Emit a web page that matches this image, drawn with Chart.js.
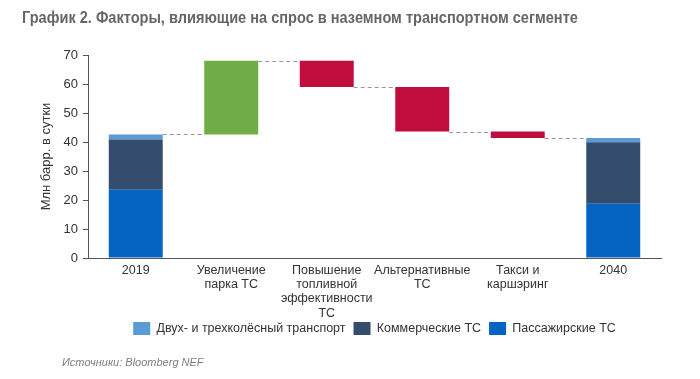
<!DOCTYPE html>
<html><head><meta charset="utf-8">
<script src="https://cdn.jsdelivr.net/npm/chart.js@4.4.0/dist/chart.umd.min.js"></script>
<style>
html,body{margin:0;padding:0;background:#fff;}
#wrap{position:relative;width:700px;height:379px;overflow:hidden;}
#title{position:absolute;left:22px;top:9px;font:bold 16px "Liberation Sans",Arial,sans-serif;color:#666;white-space:nowrap;transform:scaleX(0.91);transform-origin:0 0;}
#source{position:absolute;left:62px;top:356px;font:italic 11px "Liberation Sans",Arial,sans-serif;color:#7f7f7f;white-space:nowrap;}
canvas{position:absolute;left:0;top:0;}
</style></head>
<body><div id="wrap"><canvas id="c" width="700" height="379"></canvas>
<div id="title">График 2. Факторы, влияющие на спрос в наземном транспортном сегменте</div>
<div id="source">Источники: Bloomberg NEF</div></div>
<script>
const categories = [['2019'], ['Увеличение','парка ТС'], ['Повышение','топливной','эффективности','ТС'], ['Альтернативные','ТС'], ['Такси и','каршэринг'], ['2040']];
const passenger = [23.5, null, null, null, null, 18.7];
const commercial = [17.4, null, null, null, null, 21.2];
const twoWheel = [1.7, null, null, null, null, 1.5];
const changes = [null, 25.4, -9.0, -15.4, -2.2, null];
const seriesNames = ['Пассажирские ТС', 'Коммерческие ТС', 'Двух- и трехколёсный транспорт'];
const yTicks = [0, 10, 20, 30, 40, 50, 60, 70];

// build floating waterfall bars and connector levels
const floating = [null, null, null, null, null, null];
const wfColors = [];
const levels = [];
let level = passenger[0] + commercial[0] + twoWheel[0];
levels.push(level);
for (let i = 1; i < categories.length - 1; i++) {
  const end = level + changes[i];
  floating[i] = [level, end];
  wfColors[i] = changes[i] >= 0 ? '#70AD47' : '#C00D3E';
  level = end;
  levels.push(level);
}

const connectorPlugin = {
  id: 'connectors',
  afterDatasetsDraw(chart) {
    const ctx = chart.ctx;
    const meta = chart.getDatasetMeta(0);
    const y = chart.scales.y;
    ctx.save();
    ctx.strokeStyle = '#999';
    ctx.lineWidth = 1;
    ctx.setLineDash([4, 3]);
    for (let i = 0; i < levels.length; i++) {
      const a = meta.data[i], b = meta.data[i + 1];
      const x1 = a.x + a.width / 2, x2 = b.x - b.width / 2;
      const py = Math.round(y.getPixelForValue(levels[i])) + 0.5;
      ctx.beginPath(); ctx.moveTo(x1, py); ctx.lineTo(x2, py); ctx.stroke();
    }
    ctx.restore();
  }
};

const FONT = '"Liberation Sans", Arial, sans-serif';
new Chart(document.getElementById('c'), {
  type: 'bar',
  data: {
    labels: categories,
    datasets: [
      { label: seriesNames[0], data: passenger, backgroundColor: '#0563C1' },
      { label: seriesNames[1], data: commercial, backgroundColor: '#344C6E' },
      { label: seriesNames[2], data: twoWheel, backgroundColor: '#5B9BD5' },
      { label: 'wf', data: floating, backgroundColor: wfColors }
    ]
  },
  options: {
    responsive: false,
    animation: false,
    datasets: { bar: { categoryPercentage: 1, barPercentage: 0.565 } },
    layout: { padding: { left: 0, right: 39, top: 55, bottom: 34 } },
    plugins: {
      legend: {
        position: 'bottom', fullSize: false, reverse: true,
        labels: {
          filter: (item) => item.datasetIndex < 3,
          boxWidth: 17, boxHeight: 13, padding: 8,
          font: { size: 12.5, family: FONT }, color: '#333'
        }
      },
      tooltip: { enabled: false }
    },
    scales: {
      x: {
        stacked: true,
        grid: { display: false, drawTicks: false },
        border: { display: true, color: '#555' },
        ticks: { font: { size: 12.5, family: FONT, lineHeight: 1.15 }, color: '#333', maxRotation: 0, autoSkip: false, padding: 5 },
        afterFit(s) { s.height = 56; s._computeLabelArea = () => undefined; }
      },
      y: {
        stacked: true, min: 0, max: 70,
        afterBuildTicks(s) { s.ticks = yTicks.map(v => ({ value: v })); },
        ticks: { font: { size: 13, family: FONT }, color: '#333', padding: 5 },
        grid: { drawOnChartArea: false, tickLength: 5, color: '#555' },
        border: { color: '#555' },
        title: { display: true, text: 'Млн барр. в сутки', font: { size: 13, family: FONT }, color: '#333', padding: { top: 39, bottom: 0 } },
        afterFit(s) { s.width = 88; }
      }
    }
  },
  plugins: [connectorPlugin]
});
</script>
</body></html>
